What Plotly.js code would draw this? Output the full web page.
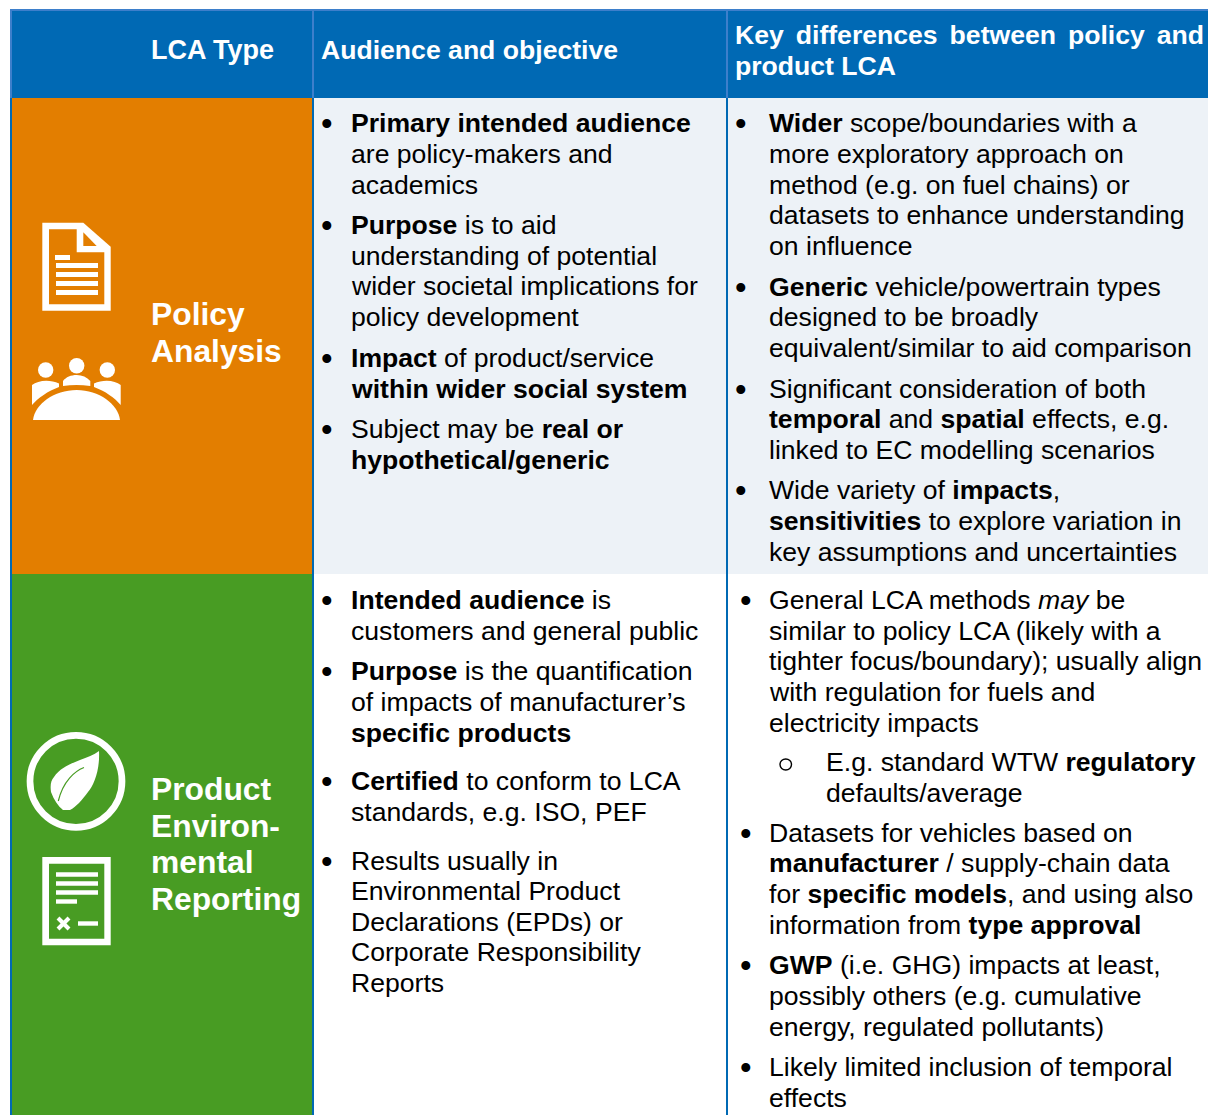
<!DOCTYPE html>
<html><head><meta charset="utf-8">
<script src="https://cdn.plot.ly/plotly-3.0.1.min.js"></script>
<style>html,body{margin:0;padding:0;background:#fff}</style></head>
<body><div id="chart" style="width:1208px;height:1115px"></div>
<script>
// ---- Table content ----
const headers = ["LCA Type", "Audience and objective"];
const headerKey = ["Key\u2005\u2009differences\u2005\u2009between\u2005\u2009policy\u2005\u2009and", "product LCA"];
const rowPolicy = ["Policy", "Analysis"];
const rowProduct = ["Product", "Environ-", "mental", "Reporting"];
const policyAudience = [
 ["<b>Primary intended audience</b>", "are policy-makers and", "academics"],
 ["<b>Purpose</b> is to aid", "understanding of potential", "wider societal implications for", "policy development"],
 ["<b>Impact</b> of product/service", "<b>within wider social system</b>"],
 ["Subject may be <b>real or</b>", "<b>hypothetical/generic</b>"]
];
const policyKey = [
 ["<b>Wider</b> scope/boundaries with a", "more exploratory approach on", "method (e.g. on fuel chains) or", "datasets to enhance understanding", "on influence"],
 ["<b>Generic</b> vehicle/powertrain types", "designed to be broadly", "equivalent/similar to aid comparison"],
 ["Significant consideration of both", "<b>temporal</b> and <b>spatial</b> effects, e.g.", "linked to EC modelling scenarios"],
 ["Wide variety of <b>impacts</b>,", "<b>sensitivities</b> to explore variation in", "key assumptions and uncertainties"]
];
const productAudience = [
 ["<b>Intended audience</b> is", "customers and general public"],
 ["<b>Purpose</b> is the quantification", "of impacts of manufacturer\u2019s", "<b>specific products</b>"],
 ["<b>Certified</b> to conform to LCA", "standards, e.g. ISO, PEF"],
 ["Results usually in", "Environmental Product", "Declarations (EPDs) or", "Corporate Responsibility", "Reports"]
];
const productKey = [
 ["General LCA methods <i>may</i> be", "similar to policy LCA (likely with a", "tighter focus/boundary); usually align", "with regulation for fuels and", "electricity impacts"],
 ["E.g. standard WTW <b>regulatory</b>", "defaults/average"],
 ["Datasets for vehicles based on", "<b>manufacturer</b> / supply-chain data", "for <b>specific models</b>, and using also", "information from <b>type approval</b>"],
 ["<b>GWP</b> (i.e. GHG) impacts at least,", "possibly others (e.g. cumulative", "energy, regulated pollutants)"],
 ["Likely limited inclusion of temporal", "effects"]
];

// ---- Layout ----
const policyAudienceY = [[123,154,185],[225,256,286,317],[358,389],[429,460]];
const policyKeyY = [[123,154,185,215,246],[287,317,348],[389,419,450],[490,521,552]];
const productAudienceY = [[600,631],[671,702,733],[781,812],[861,891,922,952,983]];
const productKeyY = [[600,631,661,692,723],[762,793],[833,863,894,925],[965,996,1027],[1067,1098]];

const FONT = '"Liberation Sans", Arial, sans-serif';
const BODY = 26.6, HEAD = 26.6, ROWLABEL = 31.8, DOT = 33;
const BLUE = '#0069B4', EDGE = '#3D7FCB', ORANGE = '#E37E00', GREEN = '#489C23', PALE = '#EDF2F7';
const annotations = [];
const extraShapes = [];
function label(x, y, text, size, color, anchor) {
  annotations.push({x, y, text, xref:'x', yref:'y', showarrow:false, xanchor:anchor||'left', yanchor:'middle',
    align:'left', borderpad:0, font:{family:FONT, size:size||BODY, color:color||'#000'}});
}
function block(groups, ys, textX, bulletX, subIndex) {
  groups.forEach((g, i) => {
    const sub = i === subIndex;
    const tx = sub ? 825 : textX;
    if (sub) {
      extraShapes.push({type:'circle', x0:780, x1:791.5, y0:ys[i][0]-3, y1:ys[i][0]+8, line:{color:'#000', width:1.4}, fillcolor:'rgba(0,0,0,0)', layer:'below'});
    } else {
      label(bulletX, ys[i][0], '\u2022', DOT, '#000', 'center');
    }
    g.forEach((t, j) => label(tx, ys[i][j], t));
  });
}
block(policyAudience, policyAudienceY, 350, 327);
block(policyKey, policyKeyY, 768, 741);
block(productAudience, productAudienceY, 350, 327);
block(productKey, productKeyY, 768, 746, 1);
label(150, 50, '<b>'+headers[0]+'</b>', 27, '#fff');
label(320, 50, '<b>'+headers[1]+'</b>', HEAD, '#fff');
label(734, 35, '<b>'+headerKey[0]+'</b>', HEAD, '#fff');
label(734, 66, '<b>'+headerKey[1]+'</b>', HEAD, '#fff');
rowPolicy.forEach((t, i) => label(150, 314 + i*37, '<b>'+t+'</b>', ROWLABEL, '#fff'));
rowProduct.forEach((t, i) => label(150, 789 + i*36.7, '<b>'+t+'</b>', ROWLABEL, '#fff'));

function rect(x0, y0, x1, y1, fill) { return {type:'rect', x0, y0, x1, y1, fillcolor:fill, line:{width:0}, layer:'below'}; }
function vline(x, y0, y1, color, w) { return {type:'line', x0:x, x1:x, y0, y1, line:{color, width:w}, layer:'below'}; }
function hline(x0, x1, y, color, w) { return {type:'line', x0, x1, y0:y, y1:y, line:{color, width:w}, layer:'below'}; }
function glyph(path, fill) { return {type:'path', path, fillcolor:fill, line:{width:0}, layer:'below'}; }
function disc(cx, cy, r, fill) { return {type:'circle', x0:cx-r, x1:cx+r, y0:cy-r, y1:cy+r, fillcolor:fill, line:{width:0}, layer:'below'}; }

const shapes = [
  rect(11, 10, 1208, 98, BLUE),
  rect(12, 98, 313, 574, ORANGE),
  rect(313, 98, 1208, 574, PALE),
  rect(12, 574, 313, 1115, GREEN),
  hline(10, 1208, 10, EDGE, 2),
  vline(11, 10, 98, EDGE, 2),
  vline(313, 10, 98, EDGE, 2),
  vline(727, 10, 98, EDGE, 2),
  vline(11, 98, 1115, BLUE, 2),
  vline(313, 98, 1115, BLUE, 2),
  vline(727, 98, 1115, BLUE, 2),

  // document icon
  glyph('M42.3,222.7 L83.3,222.7 L110.7,246.7 L110.7,310.7 L42.3,310.7 Z', '#fff'),
  glyph('M49,229.3 L76.7,229.3 L76.7,252.3 L104.3,252.3 L104.3,304.3 L49,304.3 Z', ORANGE),
  glyph('M83.3,232.3 L96.7,246 L83.3,246 Z', ORANGE),
  rect(55,255,70,260,'#fff'), rect(56,263,98,268,'#fff'), rect(56,272,98,277,'#fff'),
  rect(56,281,98,286,'#fff'), rect(56,290,98,295,'#fff'),

  // people icon
  disc(45.7,370,7.7,'#fff'), disc(76.7,365.7,7.7,'#fff'), disc(107.3,370,7.7,'#fff'),
  glyph('M32,385 C38,380 50,379 59,383.5 L59,387 C48,391 38,398 32,405 Z', '#fff'),
  glyph('M120.7,385 C115,380 103,379 94,383.5 L94,387 C105,391 115,398 120.7,405 Z', '#fff'),
  glyph('M63,386 L63,381 C66,377 71,375 76.7,375 C82,375 87,377 90.3,381 L90.3,386 C81,384.5 72,384.5 63,386 Z', '#fff'),
  glyph('M33,420 C35,404 54,390 76.7,390 C99,390 118,404 120,420 Z', '#fff'),

  // leaf icon
  {type:'circle', x0:30, x1:122, y0:735.3, y1:827.3, line:{color:'#fff', width:6.7}, fillcolor:'rgba(0,0,0,0)', layer:'below'},
  glyph('M99,751 C100,770 94,785 88,792 C82,800 76,807 70,810 L63,810 C58,806 54,800 51,792 C50,785 51,780 54,777 C60,768 70,764 80,760 C87,757 94,755 99,751 Z', '#fff'),
  {type:'path', path:'M84,767.5 C75,771 63,781 58.3,801', line:{color:GREEN, width:1.2}, layer:'below'},

  // reporting icon
  glyph('M42.3,857 L110.7,857 L110.7,945.3 L42.3,945.3 Z', '#fff'),
  glyph('M49,863.7 L104.3,863.7 L104.3,938.7 L49,938.7 Z', GREEN),
  rect(56,872.3,98,876.7,'#fff'), rect(56,881.3,98,885.7,'#fff'), rect(56,890.3,98,894.7,'#fff'),
  rect(56,899.3,77,903.7,'#fff'), rect(78,921.3,98,925.7,'#fff'),
  {type:'line', x0:58, x1:69, y0:918, y1:929, line:{color:'#fff', width:4}, layer:'below'},
  {type:'line', x0:69, x1:58, y0:918, y1:929, line:{color:'#fff', width:4}, layer:'below'}
].concat(extraShapes);

Plotly.newPlot('chart', [], {
  width:1208, height:1115, margin:{l:0,r:0,t:0,b:0}, paper_bgcolor:'#fff', plot_bgcolor:'#fff',
  xaxis:{range:[0,1208], visible:false, fixedrange:true},
  yaxis:{range:[1115,0], visible:false, fixedrange:true},
  showlegend:false, shapes, annotations
}, {staticPlot:true, displayModeBar:false});
</script></body></html>
